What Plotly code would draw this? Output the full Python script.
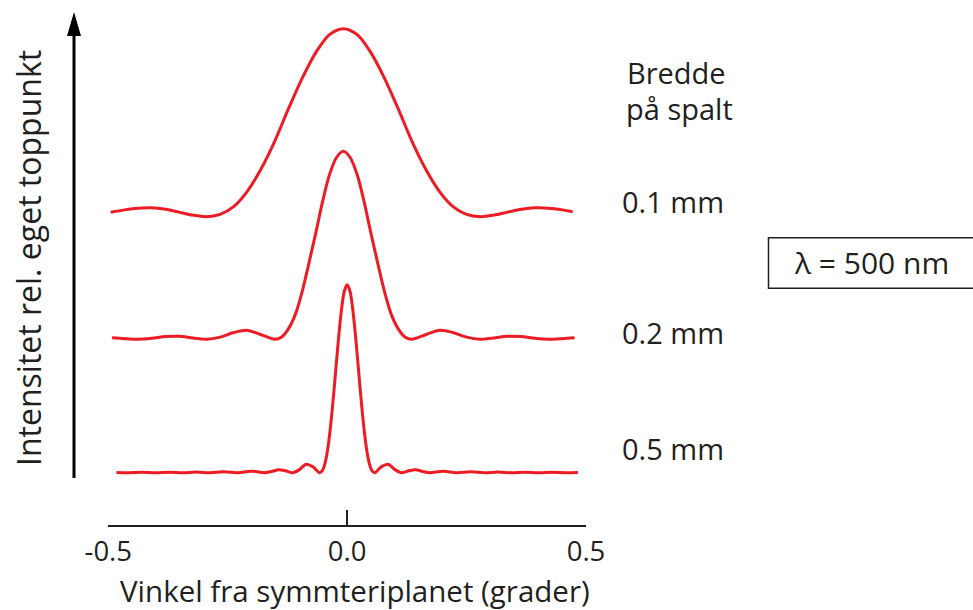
import plotly.graph_objects as go

# ---------------- data ----------------
# angle in degrees, intensity relative to own peak
angle_01mm = [-0.495, -0.466, -0.438, -0.409, -0.380, -0.352, -0.323, -0.295, -0.266, -0.237,
              -0.209, -0.180, -0.151, -0.123, -0.094, -0.065, -0.037, -0.008, 0.021, 0.049,
              0.078, 0.107, 0.135, 0.164, 0.193, 0.221, 0.250, 0.279, 0.307, 0.336,
              0.365, 0.393, 0.422, 0.450, 0.472]
intensity_01mm = [0.023, 0.036, 0.045, 0.047, 0.039, 0.024, 0.008, 0.0, 0.012, 0.055,
                  0.135, 0.255, 0.405, 0.573, 0.737, 0.875, 0.968, 1.0, 0.968, 0.875,
                  0.737, 0.573, 0.405, 0.255, 0.135, 0.055, 0.012, 0.0, 0.008, 0.024,
                  0.039, 0.047, 0.045, 0.036, 0.026]

angle_02mm = [-0.492, -0.466, -0.438, -0.409, -0.380, -0.352, -0.323, -0.294, -0.266, -0.237,
              -0.208, -0.180, -0.151, -0.137, -0.123, -0.108, -0.094, -0.080, -0.065, -0.051,
              -0.037, -0.022, -0.008, 0.006, 0.021, 0.035, 0.049, 0.064, 0.078, 0.092,
              0.107, 0.121, 0.135, 0.164, 0.192, 0.221, 0.250, 0.278, 0.307, 0.336,
              0.364, 0.393, 0.422, 0.450, 0.476]
intensity_02mm = [0.008, 0.003, 0.0, 0.005, 0.014, 0.016, 0.007, 0.0, 0.011, 0.036,
                  0.047, 0.024, 0.0, 0.012, 0.055, 0.135, 0.255, 0.405, 0.573, 0.737,
                  0.875, 0.968, 1.0, 0.968, 0.875, 0.737, 0.573, 0.405, 0.255, 0.135,
                  0.055, 0.012, 0.0, 0.024, 0.047, 0.036, 0.011, 0.0, 0.007, 0.016,
                  0.014, 0.005, 0.0, 0.003, 0.008]

angle_05mm = [-0.483, -0.458, -0.430, -0.401, -0.372, -0.344, -0.315, -0.287, -0.258, -0.229,
              -0.201, -0.172, -0.158, -0.143, -0.129, -0.115, -0.100, -0.086, -0.072, -0.0573,
              -0.0516, -0.0458, -0.0401, -0.0344, -0.0287, -0.0229, -0.0172, -0.0115, -0.0057, 0.0,
              0.0057, 0.0115, 0.0172, 0.0229, 0.0287, 0.0344, 0.0401, 0.0458, 0.0516,
              0.0573, 0.072, 0.086, 0.100, 0.115, 0.129, 0.143, 0.158, 0.172, 0.201,
              0.229, 0.258, 0.287, 0.315, 0.344, 0.372, 0.401, 0.430, 0.458, 0.483]
intensity_05mm = [0.0014, 0.0, 0.0018, 0.0, 0.0024, 0.0, 0.0033, 0.0, 0.005, 0.0,
                  0.0083, 0.0, 0.0067, 0.0162, 0.010, 0.0, 0.0165, 0.045, 0.0324, 0.0,
                  0.012, 0.055, 0.135, 0.255, 0.405, 0.573, 0.737, 0.875, 0.968, 1.0,
                  0.968, 0.875, 0.737, 0.573, 0.405, 0.255, 0.135, 0.055, 0.012,
                  0.0, 0.0324, 0.045, 0.0165, 0.0, 0.010, 0.0162, 0.0067, 0.0, 0.0083,
                  0.0, 0.005, 0.0, 0.0033, 0.0, 0.0024, 0.0, 0.0018, 0.0, 0.0014]

slit_labels = ["0.1 mm", "0.2 mm", "0.5 mm"]
tick_values = [-0.5, 0.0, 0.5]
tick_labels = ["-0.5", "0.0", "0.5"]
x_title = "Vinkel fra symmteriplanet (grader)"
y_title = "Intensitet rel. eget toppunkt"
legend_title = ["Bredde", "på spalt"]
wavelength_label = "λ = 500 nm"

# ---------------- styling / layout ----------------
W, H = 973, 610
RED = "#ED1C24"
INK = "#231F20"
FONT = "Open Sans"
# vertical stacking offsets of the curves (in intensity units)
stack_offset = {"0.1 mm": 1.362, "0.2 mm": 0.710, "0.5 mm": 0.0}


def px(x):
    return x / W


def py(y):
    return 1 - y / H


fig = go.Figure()
series = [(slit_labels[0], angle_01mm, intensity_01mm),
          (slit_labels[1], angle_02mm, intensity_02mm),
          (slit_labels[2], angle_05mm, intensity_05mm)]
for name, xs, ys in series:
    off = stack_offset[name]
    fig.add_trace(go.Scatter(
        x=xs, y=[v + off for v in ys], mode="lines", name=name,
        line=dict(color=RED, width=3, shape="spline", smoothing=0.9),
        hoverinfo="skip", showlegend=False))

annotations = [
    dict(text=x_title, x=px(355), y=py(590), font=dict(size=29.5)),
    dict(text=y_title, x=px(28), y=py(258), textangle=-90, font=dict(size=32)),
    dict(text=legend_title[0], x=px(676.5), y=py(73)),
    dict(text=legend_title[1], x=px(679), y=py(108)),
    dict(text=slit_labels[0], x=px(673), y=py(201)),
    dict(text=slit_labels[1], x=px(673), y=py(332)),
    dict(text=slit_labels[2], x=px(673), y=py(449)),
    dict(text=wavelength_label, x=px(871.5), y=py(262), font=dict(size=30)),
]
for a in annotations:
    a.setdefault("font", dict(size=29))
    a["font"].update(family=FONT, color=INK)
    a.update(xref="paper", yref="paper", showarrow=False,
             xanchor="center", yanchor="middle")

shapes = [
    # vertical arrow shaft
    dict(type="line", xref="paper", yref="paper",
         x0=px(74), x1=px(74), y0=py(478), y1=py(34),
         line=dict(color="black", width=3)),
    # arrow head
    dict(type="path", xref="paper", yref="paper",
         path=f"M {px(67)},{py(36)} L {px(81)},{py(36)} L {px(74)},{py(12)} Z",
         fillcolor="black", line=dict(color="black", width=0)),
    # wavelength box
    dict(type="rect", xref="paper", yref="paper",
         x0=px(768.5), x1=px(990), y0=py(288.3), y1=py(237.7),
         line=dict(color=INK, width=1.5)),
]

fig.update_layout(
    width=W, height=H, autosize=False,
    margin=dict(l=0, r=0, t=0, b=0, pad=0, autoexpand=False),
    paper_bgcolor="white", plot_bgcolor="white",
    font=dict(family=FONT, color=INK),
    annotations=annotations,
    shapes=shapes,
    xaxis=dict(domain=[px(108.3), px(586)], range=[-0.5, 0.5],
               automargin=False,
               showgrid=False, zeroline=False,
               showline=True, linecolor=INK, linewidth=2,
               ticks="inside", ticklen=15, tickwidth=2, tickcolor=INK,
               ticklabelstandoff=1,
               tickvals=tick_values, ticktext=tick_labels,
               tickfont=dict(family=FONT, size=27.5, color=INK)),
    yaxis=dict(domain=[(H - 525) / H, 1], range=[-0.2782, 2.5144],
               automargin=False,
               visible=False, showgrid=False, zeroline=False),
)

fig.write_html("out.html",
               config={"displayModeBar": False},
               post_script="document.body.style.margin='0px';document.body.style.overflow='hidden';")
